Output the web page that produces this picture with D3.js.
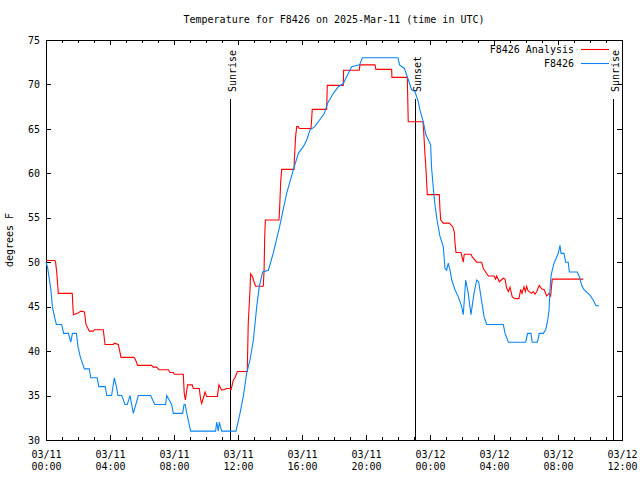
<!DOCTYPE html>
<html><head><meta charset="utf-8">
<script src="https://cdn.jsdelivr.net/npm/d3@7"></script>
<style>
body{margin:0;background:#fff}
svg{display:block;background:#fff}
text{font-family:"DejaVu Sans Mono","Liberation Mono",monospace;font-size:10px;fill:#000}
</style>
</head><body><svg id="c" width="640" height="480"></svg>
<script>
const title = "Temperature for F8426 on 2025-Mar-11 (time in UTC)";
const yLabel = "degrees F";
const xTickHours = [0,4,8,12,16,20,24,28,32,36];
const xTickDates = ["03/11","03/11","03/11","03/11","03/11","03/11","03/12","03/12","03/12","03/12"];
const xTickTimes = ["00:00","04:00","08:00","12:00","16:00","20:00","00:00","04:00","08:00","12:00"];
const yTicks = [30,35,40,45,50,55,60,65,70,75];
const eventHours = [11.52, 23.08, 35.46];
const eventNames = ["Sunrise","Sunset","Sunrise"];
const seriesNames = ["F8426 Analysis","F8426"];
const seriesColors = ["#ff0000","#0a84f5"];

const anaHours = [0,0.55,0.6,0.67,0.77,1.64,1.67,1.71,2.0,2.19,2.4,2.5,2.64,2.71,2.96,3.02,3.58,3.69,4.21,4.27,4.52,4.69,5.5,5.6,5.73,6.6,6.7,6.92,7.06,7.65,7.75,7.96,8.02,8.58,8.64,8.71,8.85,9.14,9.21,9.58,9.67,9.73,9.83,9.94,10.04,10.71,10.81,10.98,11.19,11.29,11.54,11.56,11.71,11.81,11.96,12.58,12.6,12.64,12.75,12.79,12.9,13.0,13.1,13.58,13.63,13.67,13.71,14.56,14.6,14.67,14.73,15.5,15.52,15.6,15.67,15.77,15.83,16.56,16.6,16.64,17.54,17.58,18.58,18.6,19.58,19.62,20.56,20.62,21.6,21.62,22.58,22.64,23.56,23.6,23.67,23.75,23.83,24.58,24.625,24.67,24.83,25.2,25.42,25.52,25.56,25.625,25.94,26.08,26.14,26.56,26.64,26.92,27.23,27.33,27.65,28.0,28.1,28.17,28.33,28.58,28.69,28.79,28.9,29.0,29.14,29.31,29.56,29.67,29.75,29.875,29.96,30.04,30.125,30.35,30.46,30.56,30.67,30.83,30.98,31.14,31.29,31.44,31.54,31.64,33.58];
const anaTemps = [50.2,50.2,50,48.9,46.5,46.5,45.4,44.1,44.3,44.5,44.4,43,42.5,42.25,42.25,42.4,42.4,40.75,40.75,40.9,40.75,39.3,39.3,39,38.4,38.4,38.2,38.2,37.9,37.9,37.6,37.6,37.4,37.4,35.25,34.5,36.2,36.2,35.8,35.8,34.5,34.1,34.7,35.4,34.9,34.9,36.2,35.6,35.7,35.8,35.8,35.6,36.75,37,37.7,37.7,39.6,43.1,46.9,48.7,48.4,47.8,47.3,47.3,49.1,52.9,54.75,54.75,56,59.1,60.45,60.45,61.5,64.1,65.25,65.25,65.05,65.05,66,67.2,67.2,69.9,69.9,71.6,71.6,72.2,72.2,71.7,71.7,70.8,70.8,65.8,65.8,64.9,62.6,60.4,57.6,57.6,55.9,54.75,54.4,54.4,54,53.4,52.2,51.1,51.1,50,50.9,50.9,50.6,50,50,49.3,48.45,48.45,48.1,48.45,47.8,48.2,48.1,47.1,46.7,47.2,46.1,45.9,45.9,46.95,46.5,47.25,46.7,47.3,46.8,46.5,46.7,46.4,46.7,47.4,47.0,46.9,46.2,46.5,46.2,48.1,48.1];

const obsHours = [0,0.1,0.3,0.4,0.55,0.65,0.98,1.1,1.4,1.55,1.65,1.9,2.0,2.15,2.4,2.7,2.8,3.2,3.3,3.7,3.8,4.1,4.27,4.4,4.5,4.73,4.94,5.08,5.25,5.46,5.77,6.54,6.8,7.48,7.54,7.7,7.85,7.96,8.54,8.63,8.7,8.8,9.04,10.6,10.67,10.77,10.83,10.98,11.875,12.125,12.33,12.54,12.75,12.96,13.17,13.33,13.54,13.9,14.2,14.6,15.04,15.46,15.77,16.08,16.3,16.5,16.8,17.1,17.4,17.6,17.96,18.27,18.58,18.8,19.1,19.6,19.77,22.0,22.1,22.4,22.65,22.85,23.06,23.27,23.375,23.58,23.75,23.9,24.04,24.1,24.2,24.3,24.44,24.625,24.83,24.94,25.04,25.14,25.25,25.36,25.56,25.77,25.98,26.08,26.23,26.39,26.56,26.75,26.92,27.04,27.23,27.375,27.54,28.58,28.69,28.9,29.98,30.1,30.31,30.39,30.71,30.83,31.08,31.23,31.36,31.44,31.5,31.56,31.64,31.75,31.875,32.02,32.125,32.19,32.375,32.48,32.64,32.71,33.2,33.33,33.48,33.625,34.0,34.2,34.375,34.56];
const obsTemps = [50,49.4,47,45,43.7,43,43,42,42,41,42,42,40.5,39.3,38,38,37,37,36,36,35,35,37,36,35,35,34,34,35,33,35,35,34,34,35,34.5,34,33,33,34,34,33,31,31,32,31,32,31,31,33,34.9,37.5,39,41.25,45,47.25,48.9,49.1,51,54,57.75,60.4,62.25,63,63.75,64.9,65.25,66,66.75,67.9,69,69.75,70.1,70.9,72,72.2,73,73,72.2,71.8,70.5,69.4,69.2,68.05,67.1,65.8,64.3,63.75,63.2,60.6,58.5,56.6,54.75,52.9,51.75,49.3,49.1,49.9,49.1,48,46.9,46.1,45,44.1,48,46.5,44.1,46.5,48,47.8,45.6,43.9,43,43,42,41,41,42,42,41,41,42,42,42.4,43.5,44.6,46.9,48.4,49.1,49.9,50.4,51,51.9,51,51,50,50,48.9,48.9,48.4,47.4,46.9,46.3,45.75,45.1,45.1];

const L = 46, R = 622, T = 40, B = 440;
const svg = d3.select("#c");
const x = d3.scaleLinear().domain([0,36]).range([L,R]);
const y = d3.scaleLinear().domain([30,75]).range([B,T]);

// title
svg.append("text").attr("x",(L+R)/2).attr("y",23).attr("text-anchor","middle").text(title);

// y label
svg.append("text").attr("transform","translate(13,240) rotate(-90)").attr("text-anchor","middle").text(yLabel);

function styleAxis(g){
  g.select(".domain").remove();
  g.selectAll("line").attr("stroke","#000").attr("shape-rendering","crispEdges");
  g.selectAll("text").style("font-family",'"DejaVu Sans Mono","Liberation Mono",monospace').style("font-size","10px").attr("fill","#000");
}
const allHours = d3.range(0,37,1);
// bottom minor + major
svg.append("g").attr("transform",`translate(0,${B})`)
  .call(d3.axisBottom(x).tickValues(allHours).tickSize(-3).tickFormat(""))
  .call(styleAxis);
const bx = svg.append("g").attr("transform",`translate(0,${B})`)
  .call(d3.axisBottom(x).tickValues(xTickHours).tickSize(-5).tickFormat((d,i)=>xTickDates[i]))
  .call(styleAxis);
bx.selectAll(".tick text").each(function(d,i){
  const t = d3.select(this);
  t.text(null).attr("y",0).attr("dy",null);
  t.append("tspan").attr("x",0).attr("y",18).text(xTickDates[i]);
  t.append("tspan").attr("x",0).attr("y",30).text(xTickTimes[i]);
});
// top
svg.append("g").attr("transform",`translate(0,${T})`)
  .call(d3.axisTop(x).tickValues(allHours).tickSize(-3).tickFormat(""))
  .call(styleAxis);
svg.append("g").attr("transform",`translate(0,${T})`)
  .call(d3.axisTop(x).tickValues(xTickHours).tickSize(-5).tickFormat(""))
  .call(styleAxis);
// left
svg.append("g").attr("transform",`translate(${L},0)`)
  .call(d3.axisLeft(y).tickValues(yTicks).tickSize(-5).tickPadding(6))
  .call(styleAxis);
// right
svg.append("g").attr("transform",`translate(${R},0)`)
  .call(d3.axisRight(y).tickValues(yTicks).tickSize(-5).tickFormat(""))
  .call(styleAxis);

// frame
svg.append("rect").attr("x",L).attr("y",T).attr("width",R-L).attr("height",B-T)
  .attr("fill","none").attr("stroke","#000").attr("shape-rendering","crispEdges");

// events
eventHours.forEach((h,i)=>{
  const ex = Math.round(x(h))+0.5;
  svg.append("line").attr("x1",ex).attr("x2",ex).attr("y1",99).attr("y2",B)
    .attr("stroke","#000").attr("stroke-width",1);
  svg.append("text").attr("transform",`translate(${ex+5},92) rotate(-90)`)
    .attr("text-anchor","start").text(eventNames[i]);
});

// series
const series = [[anaHours,anaTemps],[obsHours,obsTemps]];
series.forEach(([hs,ts],k)=>{
  const line = d3.line().x(i=>x(hs[i])).y(i=>y(ts[i]));
  svg.append("path").attr("d",line(d3.range(hs.length)))
    .attr("fill","none").attr("stroke",seriesColors[k]).attr("stroke-width",1.1)
    .attr("stroke-linejoin","miter");
});

// legend
seriesNames.forEach((n,k)=>{
  const ly = 49.5 + k*14;
  svg.append("text").attr("x",574).attr("y",ly+3.5).attr("text-anchor","end").text(n);
  svg.append("line").attr("x1",581).attr("x2",609).attr("y1",ly).attr("y2",ly)
    .attr("stroke",seriesColors[k]).attr("stroke-width",1.1);
});
</script>
</body></html>
